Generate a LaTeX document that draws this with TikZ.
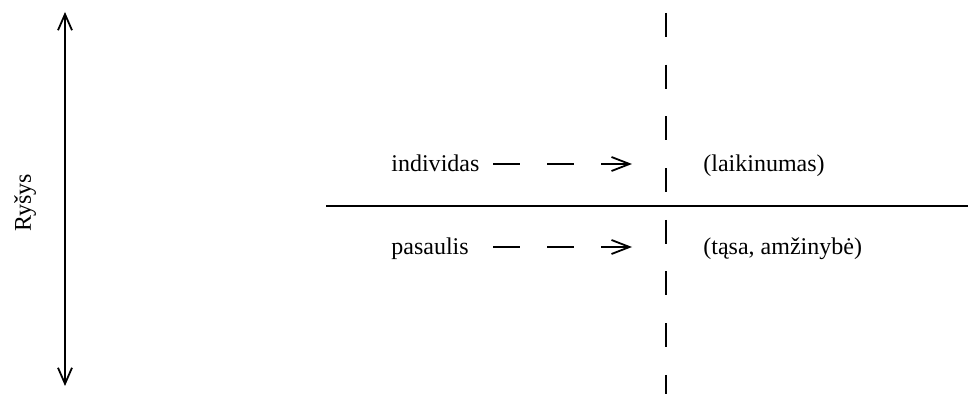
\documentclass[tikz,border=0pt]{standalone}
\usepackage{fontspec}
\setmainfont{Liberation Serif}
\usetikzlibrary{arrows.meta}

\begin{document}
\begin{tikzpicture}[x = 0.5pt, y = -0.5pt, font = \fontsize{12}{14}\selectfont,
    every node/.style = {inner sep = 0pt},
    barb/.style = {line width = 0.9pt, -{Straight Barb[length = 9pt, width = 7pt]},
        dash pattern = on 13.5pt off 13.5pt},
    axis/.style = {line width = 0.9pt, {Straight Barb[length = 8pt, width = 7pt]}-{Straight Barb[length = 8pt, width = 7pt]}}]
    \useasboundingbox (0,0) rectangle (968,394);
    % left axis
    \coordinate (top) at (65,12);
    \coordinate (bot) at (65,386);
    \draw[axis] (top) -- (bot);
    \node[rotate = 90] (rysys) at (25,203) {Ryšys};
    % cross
    \coordinate (hl) at (326,206);
    \coordinate (hr) at (968,206);
    \draw[line width = 0.9pt] (hl) -- (hr);
    \coordinate (vt) at (666,13);
    \coordinate (vb) at (666,394);
    \draw[line width = 0.9pt, dash pattern = on 12pt off 13.85pt] (vt) -- (vb);
    % rows
    \node[anchor = base west] (indiv) at (391,172) {individas};
    \node[anchor = base west] (pas) at (391,255) {pasaulis};
    \node[anchor = base west] (laik) at (703,172) {(laikinumas)};
    \node[anchor = base west] (tasa) at (703,255) {(tąsa, amžinybė)};
    \coordinate (s1) at (493,164);
    \coordinate (a1) at (632,164);
    \coordinate (s2) at (493,247);
    \coordinate (a2) at (632,247);
    \draw[barb] (s1) -- (a1);
    \draw[barb] (s2) -- (a2);
\end{tikzpicture}
\end{document}
